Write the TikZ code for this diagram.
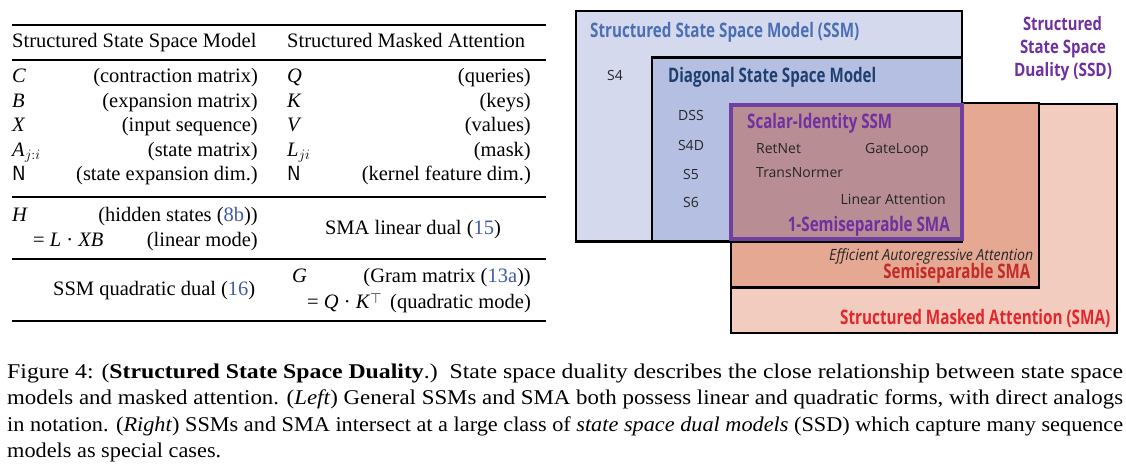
\documentclass[tikz,border=0pt]{standalone}
\usepackage{fontspec}
\usepackage{graphicx}
\setmainfont{Liberation Serif}
\newfontfamily\osans{Open Sans}
\definecolor{ssmfill}{HTML}{D4D9EE}
\definecolor{diagfill}{HTML}{B4BFE1}
\definecolor{scalfill}{HTML}{B88D94}
\definecolor{semifill}{HTML}{E5A893}
\definecolor{smafill}{HTML}{F1CCBF}
\definecolor{purp}{HTML}{7030A0}
\definecolor{purpb}{HTML}{7040A0}
\definecolor{ssmblue}{HTML}{4A6FB5}
\definecolor{diagblue}{HTML}{1F3F70}
\definecolor{semired}{HTML}{C42A2A}
\definecolor{smared}{HTML}{E3262B}
\definecolor{refblue}{HTML}{3F5BAA}
\newlength\fitlen
\newcommand\fitto[2]{\settowidth\fitlen{#2}\pgfmathsetmacro\fitr{#1/\fitlen}\xdef\lastfit{\fitr}\scalebox{\fitr}[1]{#2}}
\newcommand\rf[1]{\textcolor{refblue}{#1}}
\begin{document}
\begin{tikzpicture}[x=1pt,y=-1pt,
  tabtext/.style={font=\fontsize{20.5}{24}\selectfont, inner sep=0pt},
  lab/.style={font=\osans\fontsize{14}{16}\selectfont, inner sep=0pt, text=black!85},
  ttl/.style={font=\osans\bfseries\fontsize{20}{22}\selectfont, inner sep=0pt},
  ssdt/.style={font=\osans\bfseries\fontsize{18.5}{22}\selectfont, inner sep=0pt, text=purp, anchor=base},
  capline/.style={font=\fontsize{21}{26}\selectfont, inner sep=0pt, anchor=base west},
  thickrule/.style={line width=2.2},
  thinrule/.style={line width=1.2},
  setbox/.style={draw=black, line width=2.2}]
\useasboundingbox (0,0) rectangle (1126,470);
\fill[white] (0,0) rectangle (1126,470);

% ---------------- table ----------------
\draw[thickrule] (12,25) -- (546,25);
\draw[thinrule] (12,60) -- (546,60);
\draw[thinrule] (12,197) -- (546,197);
\draw[thinrule] (12,259) -- (546,259);
\draw[thickrule] (12,321) -- (546,321);

\node[tabtext,anchor=base west] (hl) at (12,47.5) {Structured State Space Model};
\node[tabtext,anchor=base west] (hr) at (287,47.5) {Structured Masked Attention};

\node[tabtext,anchor=base west] (s1) at (12,83) {\textit{C}};
\node[tabtext,anchor=base east] (d1) at (258,83) {(contraction matrix)};
\node[tabtext,anchor=base west] (s2) at (12,107.5) {\textit{B}};
\node[tabtext,anchor=base east] (d2) at (258,107.5) {(expansion matrix)};
\node[tabtext,anchor=base west] (s3) at (12,132) {\textit{X}};
\node[tabtext,anchor=base east] (d3) at (258,132) {(input sequence)};
\node[tabtext,anchor=base west] (s4) at (12,156.5) {\textit{A}$_{j:i}$};
\node[tabtext,anchor=base east] (d4) at (258,156.5) {(state matrix)};
\node[tabtext,anchor=base west] (s5) at (12,181) {\textsf{N}};
\node[tabtext,anchor=base east] (d5) at (258,181) {(state expansion dim.)};

\node[tabtext,anchor=base west] (r1) at (287,83) {\textit{Q}};
\node[tabtext,anchor=base east] (e1) at (531,83) {(queries)};
\node[tabtext,anchor=base west] (r2) at (287,107.5) {\textit{K}};
\node[tabtext,anchor=base east] (e2) at (531,107.5) {(keys)};
\node[tabtext,anchor=base west] (r3) at (287,132) {\textit{V}};
\node[tabtext,anchor=base east] (e3) at (531,132) {(values)};
\node[tabtext,anchor=base west] (r4) at (287,156.5) {\textit{L}$_{ji}$};
\node[tabtext,anchor=base east] (e4) at (531,156.5) {(mask)};
\node[tabtext,anchor=base west] (r5) at (287,181) {\textsf{N}};
\node[tabtext,anchor=base east] (e5) at (531,181) {(kernel feature dim.)};

\node[tabtext,anchor=base west] (hs) at (12,222) {\textit{H}};
\node[tabtext,anchor=base east] (hd) at (258,222) {(hidden states (\rf{8b}))};
\node[tabtext,anchor=base west] (lm) at (33,247) {= \textit{L} · \textit{XB}};
\node[tabtext,anchor=base east] (ld) at (258,247) {(linear mode)};
\node[tabtext,anchor=base] (smal) at (413,235) {SMA linear dual (\rf{15})};

\node[tabtext,anchor=base west] (ssmq) at (53,295) {SSM quadratic dual (\rf{16})};
\node[tabtext,anchor=base west] (gs) at (292,282.5) {\textit{G}};
\node[tabtext,anchor=base east] (gd) at (531,282.5) {(Gram matrix (\rf{13a}))};
\node[tabtext,anchor=base west] (qm) at (307,308) {= \textit{Q} · \textit{K}\raisebox{0.5ex}{\fontsize{14}{16}\selectfont$\top$}};
\node[tabtext,anchor=base east] (qd) at (531,308) {(quadratic mode)};

% ---------------- diagram ----------------
\filldraw[setbox, fill=smafill] (731,104.3) rectangle (1117,333);
\filldraw[setbox, fill=semifill] (731,103.3) rectangle (1039,287.5);
\filldraw[setbox, fill=ssmfill] (576,11) rectangle (962,241.5);
\filldraw[setbox, fill=diagfill] (652,57.5) rectangle (962,241.5);
\filldraw[draw=purpb, line width=4, fill=scalfill] (731,104.7) rectangle (962,239.5);

\node[ttl, text=ssmblue, anchor=base west] (tssm) at (590,37.5) {\fitto{269pt}{Structured State Space Model (SSM)}};
\node[lab, anchor=base] (ls4) at (615,81) {S4};
\node[ttl, text=diagblue, anchor=base west] (tdiag) at (668,83) {\fitto{208pt}{Diagonal State Space Model}};
\node[lab, anchor=base] (ldss) at (691,121) {DSS};
\node[lab, anchor=base] (ls4d) at (691,151) {S4D};
\node[lab, anchor=base] (ls5) at (691,179.5) {S5};
\node[lab, anchor=base] (ls6) at (691,207.5) {S6};

\node[ttl, text=purp, anchor=base west] (tscal) at (747,129) {\fitto{145pt}{Scalar-Identity SSM}};
\node[lab, anchor=base west] (lret) at (756,153.5) {RetNet};
\node[lab, anchor=base west] (lgate) at (865,154) {GateLoop};
\node[lab, anchor=base west] (ltn) at (756,177.5) {TransNormer};
\node[lab, anchor=base east] (lla) at (946,205) {Linear Attention};
\node[ttl, text=purp, anchor=base east] (tone) at (950,231.5) {\fitto{162pt}{1-Semiseparable SMA}};

\node[lab, font=\osans\itshape\fontsize{15.5}{18}\selectfont, anchor=base west] (leff) at (829,260.5) {\fitto{204pt}{Efficient Autoregressive Attention}};
\node[ttl, text=semired, anchor=base east] (tsemi) at (1030.5,278.5) {\fitto{147pt}{Semiseparable SMA}};
\node[ttl, text=smared, anchor=base west] (tsma) at (840,324) {\fitto{270pt}{Structured Masked Attention (SMA)}};

\node[ssdt] (ssd1) at (1062.5,31) {\fitto{79pt}{Structured}};
\node[ssdt] (ssd2) at (1063,54) {\fitto{86pt}{State Space}};
\node[ssdt] (ssd3) at (1063,77) {\fitto{98pt}{Duality (SSD)}};

% ---------------- caption ----------------
\node[capline] (c1) at (7,378) {\fitto{1116pt}{Figure 4: (\textbf{Structured State Space Duality}.)\enspace State space duality describes the close relationship between state space}};
\node[capline] (c2) at (7,404.5) {\fitto{1116pt}{models and masked attention. (\textit{Left}) General SSMs and SMA both possess linear and quadratic forms, with direct analogs}};
\node[capline] (c3) at (7,431) {\fitto{1116pt}{in notation. (\textit{Right}) SSMs and SMA intersect at a large class of \textit{state space dual models} (SSD) which capture many sequence}};
\node[capline] (c4) at (7,457) {\scalebox{\lastfit}[1]{models as special cases.}};
\end{tikzpicture}
\end{document}
